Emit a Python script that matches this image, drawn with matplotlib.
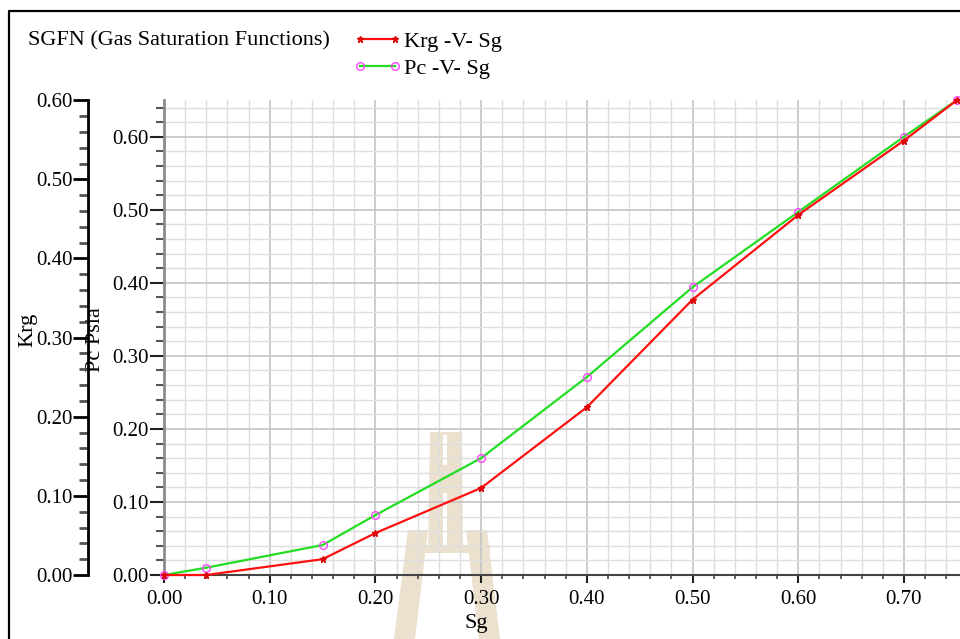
import matplotlib
matplotlib.use("Agg")
import matplotlib.pyplot as plt
import matplotlib.ticker as ticker
from matplotlib.patches import Polygon
from matplotlib.lines import Line2D

plt.rcParams['font.family'] = ['Liberation Serif', 'DejaVu Serif']

# Данные: насыщенность газом, Krg и капиллярное давление
sg = [0.00, 0.04, 0.15, 0.20, 0.30, 0.40, 0.50, 0.60, 0.70, 0.75]
krg = [0.000, 0.000, 0.020, 0.053, 0.110, 0.212, 0.348, 0.455, 0.549, 0.600]
pc = [0.000, 0.010, 0.041, 0.082, 0.160, 0.271, 0.394, 0.497, 0.600, 0.650]

W, H = 960, 639
FS_TICK = 15
FS_TEXT = 16


def fx(x):
    return x / W


def fy(y):
    return 1 - y / H


fig = plt.figure(figsize=(9.6, 6.39), dpi=100)

# Основная область (ось Pc)
ax = fig.add_axes([fx(164), fy(575), fx(960) - fx(164), fy(100.2) - fy(575)])
ax.set_xlim(0, 0.753)
ax.set_ylim(0, 0.65)
ax.set_axisbelow(True)

for s in ['top', 'right']:
    ax.spines[s].set_visible(False)
ax.spines['left'].set_color('#8c8c8c')
ax.spines['left'].set_linewidth(2)
ax.spines['bottom'].set_color('#444444')
ax.spines['bottom'].set_linewidth(1.5)

ax.xaxis.set_major_locator(ticker.MultipleLocator(0.1))
ax.xaxis.set_minor_locator(ticker.MultipleLocator(0.02))
ax.yaxis.set_major_locator(ticker.MultipleLocator(0.1))
ax.yaxis.set_minor_locator(ticker.MultipleLocator(0.02))
ax.xaxis.set_major_formatter(ticker.FormatStrFormatter('%.2f'))
ax.yaxis.set_major_formatter(ticker.FormatStrFormatter('%.2f'))

ax.tick_params(axis='both', which='major', labelsize=FS_TICK, width=1.5, color='#222222')
ax.tick_params(axis='x', which='major', length=6, pad=5)
ax.tick_params(axis='x', which='minor', length=3, width=1.2, color='#444444')
ax.tick_params(axis='y', which='major', length=10, pad=1)
ax.tick_params(axis='y', which='minor', length=6, width=1.5, color='#555555')

ax.grid(which='major', color='#c4c4c4', linewidth=1.2)
ax.grid(which='minor', color='#dedede', linewidth=1.0)

ax.set_xlabel('Sg', fontsize=FS_TEXT)
ax.xaxis.set_label_coords((476 - 164) / 796, -0.083)
ax.set_ylabel('Pc Psia', fontsize=FS_TEXT, va='center')
ax.yaxis.set_label_coords((96 - 164) / 796, 0.495)

# Водяной знак (фон)
tan = '#ebe1ce'
shapes = [
    [(430, 432), (462, 432), (463, 553), (428, 553)],
    [(408, 530), (428, 530), (415, 639), (394, 639)],
    [(466, 530), (487, 530), (500, 639), (479, 639)],
    [(420, 545), (490, 545), (490, 553), (420, 553)],
]
for pts in shapes:
    ax.add_patch(Polygon([(fx(x), fy(y)) for x, y in pts], closed=True,
                         transform=fig.transFigure, facecolor=tan,
                         edgecolor='none', zorder=0.2, clip_on=False))
for pts in [[(443, 435), (447, 435), (447, 465), (443, 465)],
            [(443, 493), (447, 493), (447, 545), (443, 545)]]:
    ax.add_patch(Polygon([(fx(x), fy(y)) for x, y in pts], closed=True,
                         transform=fig.transFigure, facecolor='white',
                         edgecolor='none', zorder=0.3, clip_on=False))

# Кривая Pc
line_pc, = ax.plot(sg, pc, color='#22dd22', linewidth=1.6, marker='o',
                   markersize=5.5, markerfacecolor='none',
                   markeredgecolor='#ff44ff', markeredgewidth=1.0,
                   label='Pc -V- Sg', zorder=3, clip_on=False)

# Ось Krg (выносная слева)
kax = ax.twinx()
kax.set_ylim(0, 0.6)
for s in ['top', 'right', 'bottom']:
    kax.spines[s].set_visible(False)
kax.spines['left'].set_visible(True)
kax.spines['left'].set_position(('outward', 76 * 0.72))
kax.spines['left'].set_linewidth(2)
kax.spines['left'].set_bounds(0, 0.6)
kax.yaxis.set_ticks_position('left')
kax.yaxis.set_label_position('left')
kax.yaxis.set_major_locator(ticker.MultipleLocator(0.1))
kax.yaxis.set_minor_locator(ticker.MultipleLocator(0.02))
kax.yaxis.set_major_formatter(ticker.FormatStrFormatter('%.2f'))
kax.tick_params(axis='y', which='major', labelsize=FS_TICK, length=11, width=2, pad=0)
kax.tick_params(axis='y', which='minor', length=6.5, width=2, color='#555555')
kax.set_ylabel('Krg', fontsize=FS_TEXT, va='center')
kax.yaxis.set_label_coords((28 - 164) / 796, 0.516)

# Кривая Krg
line_krg, = kax.plot(sg, krg, color='#ff1010', linewidth=1.6, marker='*',
                     markersize=5, markeredgecolor='#dd0000',
                     label='Krg -V- Sg', zorder=3, clip_on=False)

# Заголовок и легенда
fig.text(fx(28), fy(41), 'SGFN (Gas Saturation Functions)', fontsize=FS_TEXT,
         va='center', ha='left')
fig.legend(handles=[line_krg, line_pc], loc='upper left',
           bbox_to_anchor=(fx(353), fy(31)), frameon=False, fontsize=FS_TEXT,
           handlelength=2.2, handletextpad=0.1, labelspacing=0.3,
           borderpad=0, borderaxespad=0, numpoints=2)

# Рамка
fig.add_artist(Line2D([fx(9), fx(9), 1.01], [-0.01, fy(11), fy(11)],
                      color='black', linewidth=1.6))

fig.savefig('out.png', dpi=100)
